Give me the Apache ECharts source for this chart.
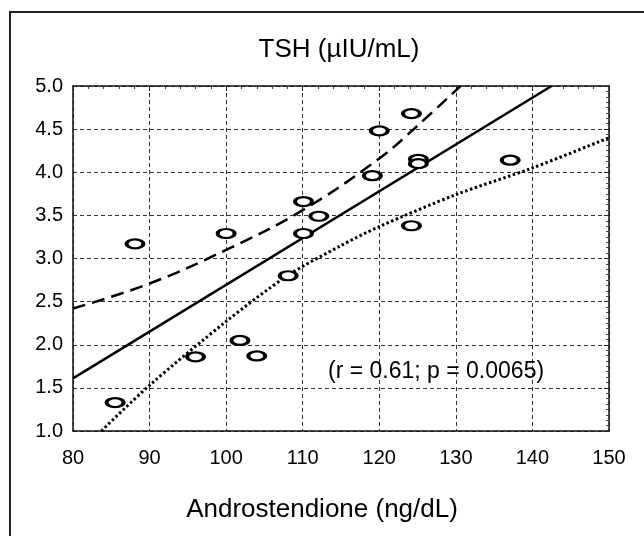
<!DOCTYPE html>
<html>
<head>
<meta charset="utf-8">
<script src="https://cdn.jsdelivr.net/npm/echarts@6/dist/echarts.min.js"></script>
<style>
html,body{margin:0;padding:0;background:#fff;}
#chart{width:644px;height:536px;}
</style>
</head>
<body>
<div id="chart"></div>
<script>
// Data
var androstendione = [88.1, 100.0, 110.1, 110.1, 112.1, 124.2, 120.0, 125.1, 125.1, 119.1, 137.1, 124.2, 108.1, 101.8, 96.0, 104.0, 85.5];
var tsh            = [3.17, 3.29, 3.29, 3.66, 3.49, 4.68, 4.48, 4.15, 4.10, 3.96, 4.14, 3.38, 2.80, 2.05, 1.86, 1.87, 1.33];

// Regression line (solid)
var fitX = [80, 142.5];
var fitY = [1.61, 5.0];
// Upper band (dashed)
var upperX = [80, 90, 100, 110, 120, 125, 130.6];
var upperY = [2.42, 2.71, 3.10, 3.56, 4.16, 4.54, 5.0];
// Lower band (dotted)
var lowerX = [83.7, 90, 100, 108, 115, 120, 130, 140, 150];
var lowerY = [1.0, 1.53, 2.27, 2.80, 3.15, 3.37, 3.74, 4.05, 4.40];

var xTicks = [80, 90, 100, 110, 120, 130, 140, 150];
var yTicks = [1.0, 1.5, 2.0, 2.5, 3.0, 3.5, 4.0, 4.5, 5.0];

var titleText = 'TSH (\u00b5IU/mL)';
var xName = 'Androstendione (ng/dL)';
var statText = '(r = 0.61; p = 0.0065)';

function zip(a, b) { return a.map(function (v, i) { return [v, b[i]]; }); }

var FONT = '"Liberation Sans", Arial, Helvetica, sans-serif';
var chart = echarts.init(document.getElementById('chart'), null, {renderer: 'canvas'});

var xMin = xTicks[0], xMax = xTicks[xTicks.length - 1];
var yMin = yTicks[0], yMax = yTicks[yTicks.length - 1];

chart.setOption({
  backgroundColor: '#fff',
  animation: false,
  grid: {left: 73, top: 86, width: 536, height: 345, containLabel: false},
  xAxis: [
    {
      type: 'value', position: 'bottom', min: xMin, max: xMax, interval: 10,
      axisLine: {show: true, onZero: false, lineStyle: {color: '#111', width: 1.5}},
      axisTick: {show: false},
      axisLabel: {color: '#000', fontSize: 20, fontFamily: FONT, margin: 17,
                  formatter: function (v) { return String(v); }},
      splitLine: {show: true, lineStyle: {color: '#333', type: [4, 3], width: 1}}
    },
    {
      type: 'value', position: 'top', min: xMin, max: xMax, interval: 10,
      axisLine: {show: true, onZero: false, lineStyle: {color: '#111', width: 1.5}},
      axisTick: {show: true, inside: true, length: 5, lineStyle: {color: '#222'}},
      minorTick: {show: true, splitNumber: 5, length: 3, lineStyle: {color: '#444'}},
      axisLabel: {show: false},
      splitLine: {show: false}
    }
  ],
  yAxis: [
    {
      type: 'value', position: 'left', min: yMin, max: yMax, interval: 0.5,
      axisLine: {show: true, onZero: false, lineStyle: {color: '#111', width: 1.5}},
      axisTick: {show: false},
      axisLabel: {color: '#000', fontSize: 20, fontFamily: FONT, margin: 10, padding: [4, 0, 0, 0],
                  formatter: function (v) { return v.toFixed(1); }},
      splitLine: {show: true, lineStyle: {color: '#333', type: [4, 3], width: 1}}
    },
    {
      type: 'value', position: 'right', min: yMin, max: yMax, interval: 0.5,
      axisLine: {show: true, onZero: false, lineStyle: {color: '#111', width: 1.5}},
      axisTick: {show: true, inside: true, length: 5, lineStyle: {color: '#222'}},
      minorTick: {show: true, splitNumber: 8, length: 3, lineStyle: {color: '#444'}},
      axisLabel: {show: false},
      splitLine: {show: false}
    }
  ],
  series: [
    {
      type: 'line', data: zip(upperX, upperY), smooth: 0.4, showSymbol: false, clip: true,
      lineStyle: {color: '#000', width: 2.5, type: [13, 7]}, z: 3
    },
    {
      type: 'line', data: zip(lowerX, lowerY), smooth: 0.3, showSymbol: false, clip: true,
      lineStyle: {color: '#000', width: 3, type: [2.5, 2.5]}, z: 3
    },
    {
      type: 'line', data: zip(fitX, fitY), showSymbol: false, clip: true,
      lineStyle: {color: '#000', width: 2.5}, z: 3
    },
    {
      type: 'scatter', data: zip(androstendione, tsh), symbol: 'circle', symbolSize: [17, 9],
      itemStyle: {color: '#fff', borderColor: '#000', borderWidth: 3, opacity: 1}, z: 5
    }
  ],
  graphic: [
    {
      type: 'rect', silent: true, z: 0,
      shape: {x: 10, y: 12, width: 700, height: 600},
      style: {fill: 'none', stroke: '#222', lineWidth: 2}
    },
    {
      type: 'text', x: 339, y: 50, z: 10,
      style: {text: titleText, fill: '#000', font: '26px ' + FONT, textAlign: 'center', textVerticalAlign: 'middle'}
    },
    {
      type: 'text', x: 322, y: 510, z: 10,
      style: {text: xName, fill: '#000', font: '26px ' + FONT, textAlign: 'center', textVerticalAlign: 'middle'}
    },
    {
      type: 'text', x: 328, y: 372, z: 10,
      style: {text: statText, fill: '#000', font: '23px ' + FONT, textAlign: 'left', textVerticalAlign: 'middle'}
    }
  ]
});
</script>
</body>
</html>
